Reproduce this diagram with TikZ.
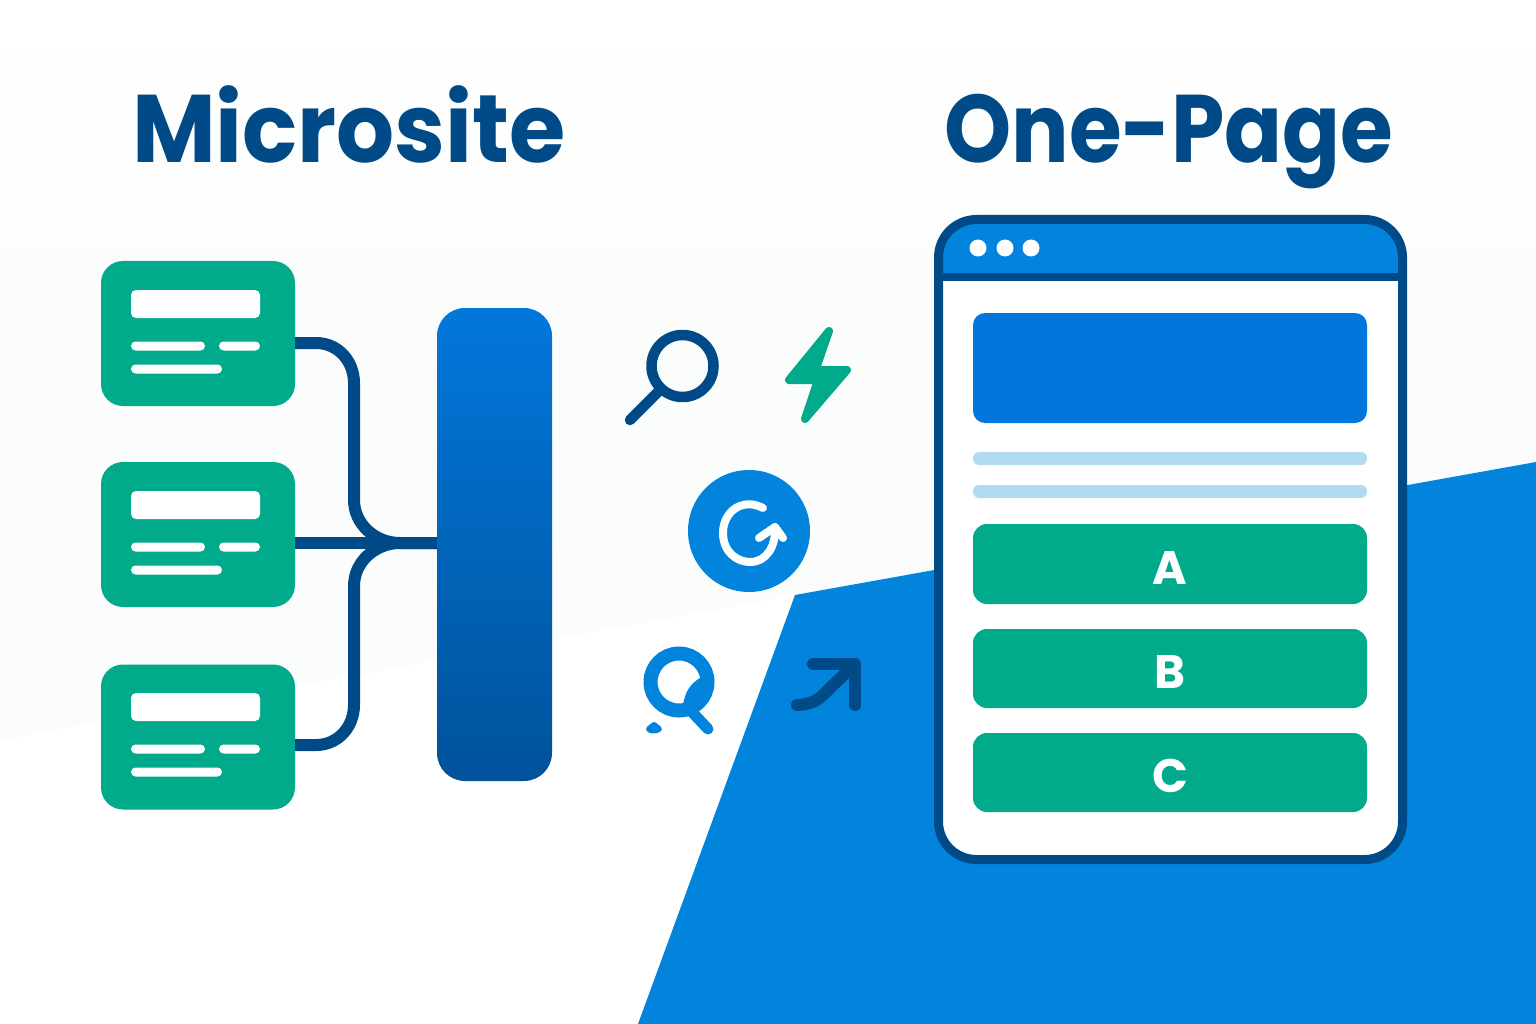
\documentclass[tikz,border=0pt]{standalone}
\usepackage{fontspec}
\setmainfont{Poppins}
\definecolor{navy}{HTML}{004A87}
\definecolor{blue}{HTML}{0284DD}
\definecolor{hero}{HTML}{0277DB}
\definecolor{hubend}{HTML}{00529A}
\definecolor{green}{HTML}{00AA8A}
\definecolor{pale}{HTML}{B3DAF3}
\definecolor{mist}{HTML}{FBFCFC}
\tikzset{
 cardbox/.style={fill=green,rounded corners=22pt,minimum width=194pt,minimum height=145pt,inner sep=0pt},
 wbar/.style={fill=white,rounded corners=4.5pt,inner sep=0pt,minimum height=9pt},
 wbox/.style={fill=white,rounded corners=5pt,inner sep=0pt,minimum width=129pt,minimum height=28pt},
 link/.style={draw=navy,line width=12pt},
 title/.style={text=navy,font=\fontsize{96}{96}\selectfont\bfseries,inner sep=0pt,anchor=base},
 choice/.style={fill=green,rounded corners=14pt,minimum width=394pt,inner sep=0pt,text=white,font=\fontsize{47}{47}\selectfont\bfseries},
 rule/.style={fill=pale,rounded corners=6pt,minimum width=394pt,minimum height=13pt,inner sep=0pt},
 icon/.style={line width=10.5pt,line cap=round,line join=round},
 dot/.style={circle,fill=white,minimum size=17pt,inner sep=0pt},
 winbox/.style={rounded corners=38pt,minimum width=464pt,minimum height=640pt,inner sep=0pt},
}
\newcommand{\cardinner}[2]{%
 \node[wbox] (#1box) at (195.5,#2+43) {};
 \node[wbar,minimum width=74pt] (#1a) at (168,#2+85) {};
 \node[wbar,minimum width=41pt] (#1b) at (239.5,#2+85) {};
 \node[wbar,minimum width=91pt] (#1c) at (176.5,#2+108) {};
}
\newcommand{\lowered}[1]{\raisebox{-20pt}[0pt][0pt]{#1}}
\begin{document}
\begin{tikzpicture}[x=1pt,y=-1pt]
\useasboundingbox (0,0) rectangle (1536,1024);
% background
\fill[white] (0,0) rectangle (1536,1024);
\fill[mist] (0,299) -- (1536,299) -- (1536,462) -- (795,595) -- (0,740) -- cycle;
\shade[top color=white,bottom color=mist] (0,0) rectangle (1536,300);
\fill[blue] (795,595) -- (1536,462) -- (1536,1024) -- (638,1024) -- cycle;
% titles
\node[title] (tmicro) at (349,163) {\scalebox{0.95}[1]{Microsite}};
\node[title] (tone) at (1169,163) {\scalebox{0.89}[1]{One-Page}};
% cards
\node[cardbox] (card1) at (198,333.5) {};
\node[cardbox] (card2) at (198,534.5) {};
\node[cardbox] (card3) at (198,737) {};
\cardinner{ca}{261}
\cardinner{cb}{462}
\cardinner{cc}{664}
% hub
\node[rounded corners=28pt,top color=hero,bottom color=hubend,minimum width=115pt,minimum height=473pt,inner sep=0pt] (bar) at (494.5,544.5) {};
% connectors
\draw[link] ([yshift=-9.5pt]card1.east) -- (316,343) .. controls (338,343) and (354,361) .. (354,383) -- (354,500) .. controls (354,524) and (375,543) .. (400,543) -- ([yshift=1.5pt]bar.west);
\draw[link] ([yshift=-8.5pt]card2.east) -- ([yshift=1.5pt]bar.west);
\draw[link] ([yshift=-8pt]card3.east) -- (316,745) .. controls (338,745) and (354,727) .. (354,705) -- (354,586) .. controls (354,562) and (375,543) .. (400,543) -- ([yshift=1.5pt]bar.west);
% browser
\node[winbox,fill=white] (win) at (1170.5,539.5) {};
\begin{scope}
\clip[rounded corners=38pt] (938.5,219.5) rectangle (1402.5,859.5);
\fill[blue] (938,219) rectangle (1403,277);
\end{scope}
\draw[navy,line width=8pt] (win.west |- 0,277) -- (win.east |- 0,277);
\node[winbox,draw=navy,line width=9pt] (frame) at (win.center) {};
\node[dot] (d1) at (978,248) {};
\node[dot] (d2) at (1005,248) {};
\node[dot] (d3) at (1031,248) {};
\node[fill=hero,rounded corners=12pt,minimum width=394pt,minimum height=110pt,inner sep=0pt] (heroimg) at (1170,368) {};
\node[rule] (r1) at (1170,458.5) {};
\node[rule] (r2) at (1170,491.5) {};
\node[choice,minimum height=80pt] (ba) at (1170,564) {\lowered{A}};
\node[choice,minimum height=79pt] (bb) at (1170,668.5) {\lowered{B}};
\node[choice,minimum height=79pt] (bc) at (1170,772.5) {\lowered{C}};
% magnifier
\draw[navy,icon] (682.5,366) circle[radius=31];
\draw[navy,icon] (660,390) -- (630,420);
% bolt
\filldraw[green,line width=8pt,line join=round] (829,331) -- (789,380) -- (818,380) -- (805,419) -- (847,370) -- (815.5,370) -- cycle;
% refresh
\node[circle,fill=blue,minimum size=122pt,inner sep=0pt] (ref) at (749,531) {};
\draw[white,line width=8pt,line cap=round,line join=round] (763,508) .. controls (742,497) and (723,512) .. (723,533) .. controls (723,552) and (737,562) .. (750,562) .. controls (766,562) and (776,547) .. (775,527);
\draw[white,line width=8pt,line cap=round,line join=round] (759,538) -- (775,527) -- (783,538);
% second magnifier
\draw[blue,line width=14pt] (679,682) circle[radius=28.5];
\fill[blue] (700,678) .. controls (690,684) and (685,692) .. (683,705) -- (700,710) -- (712,690) -- cycle;
\draw[blue,line width=11pt,line cap=round] (692,712) -- (708,729);
\draw[blue,line width=6pt,line cap=round,line join=round,fill=blue] (654,725) -- (649,729) .. controls (651,731) and (655,731) .. (659,729) -- cycle;
% arrow
\draw[navy,line width=12pt,line cap=round,line join=round] (813,664) -- (855,664) -- (855,705);
\draw[navy,line width=12pt,line cap=round] (797,705) .. controls (815,704) and (820,698) .. (828,690) -- (853,666);
\end{tikzpicture}
\end{document}
